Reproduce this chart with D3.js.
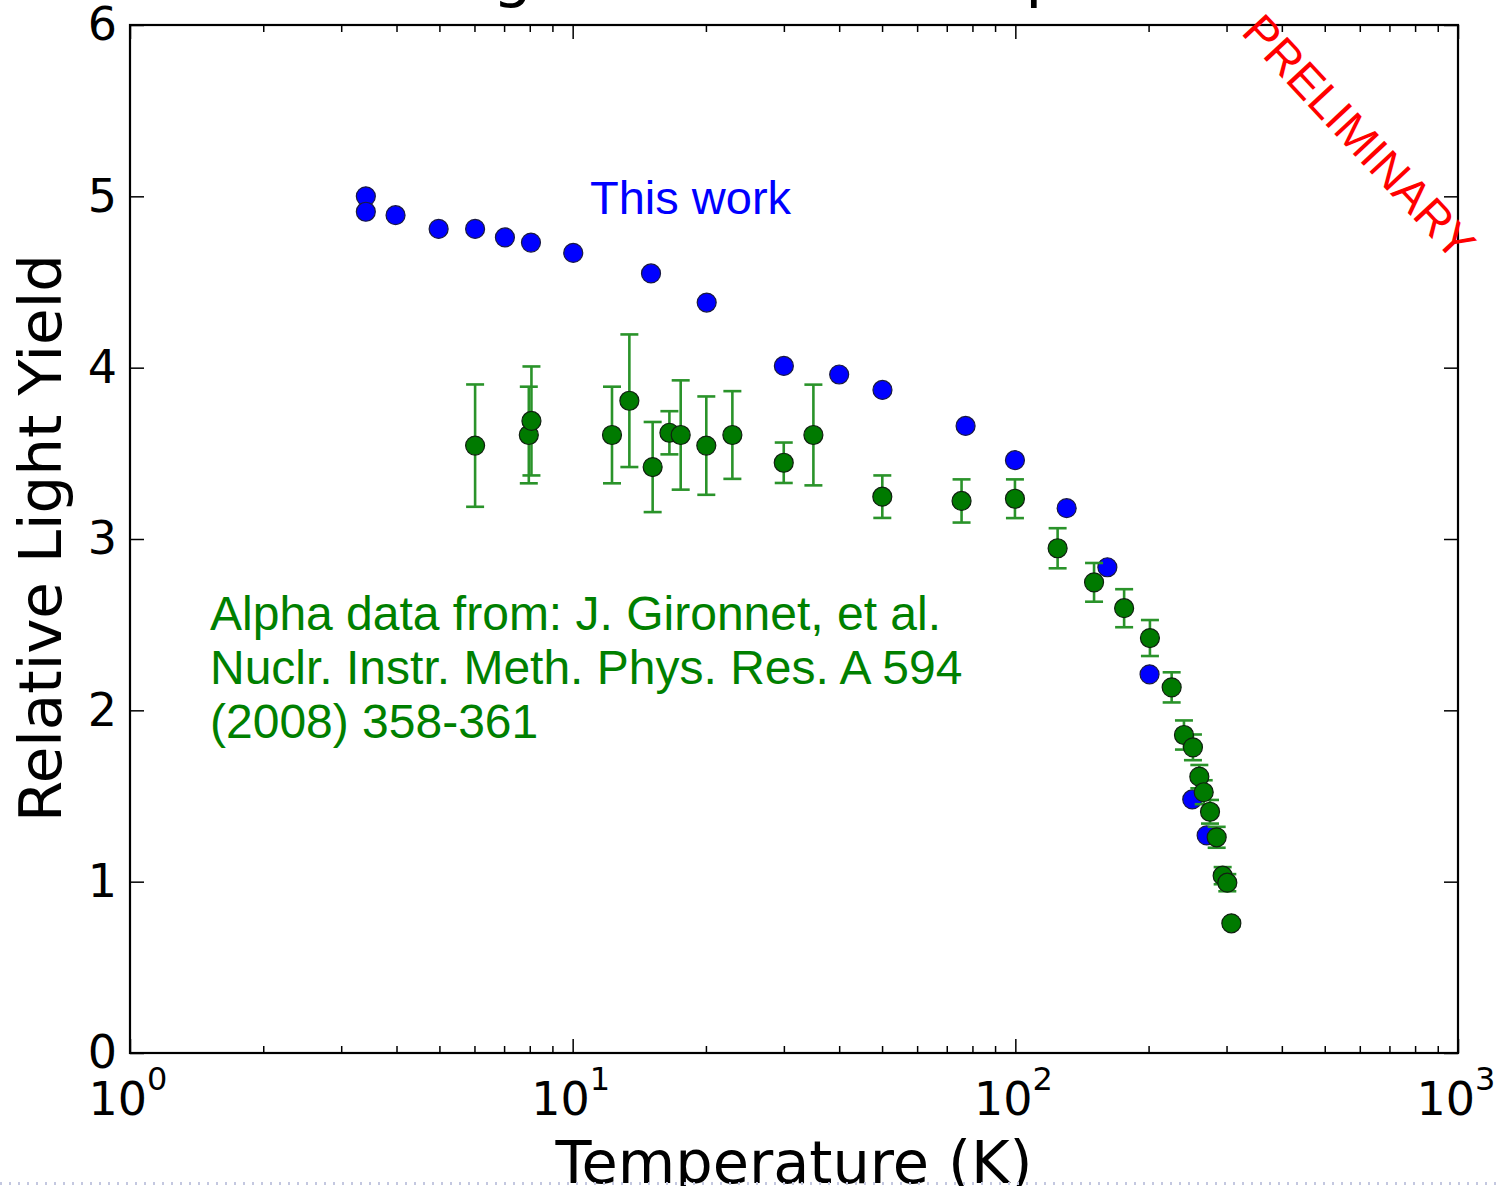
<!DOCTYPE html>
<html>
<head>
<meta charset="utf-8">
<script src="https://cdn.jsdelivr.net/npm/d3@7"></script>
<style>
  html, body { margin: 0; padding: 0; background: #fff; }
  svg { display: block; }
</style>
</head>
<body>
<div id="chart"></div>
<script>
// ---- Data ----
const blueTemp  = [3.41, 3.41, 3.98, 4.98, 6.02, 7.03, 8.05, 10.03, 15.03, 20.08, 30.0, 40.0, 50.1, 77.2, 99.8, 130.6, 161.4, 201, 251, 270.5];
const blueYield = [5.00, 4.91, 4.89, 4.81, 4.81, 4.76, 4.73, 4.67, 4.55, 4.38, 4.01, 3.96, 3.87, 3.66, 3.46, 3.18, 2.835, 2.21, 1.48, 1.27];

const greenTemp  = [6.02, 7.96, 8.07, 12.27, 13.43, 15.16, 16.54, 17.54, 20.04, 22.95, 29.98, 34.98, 50.06, 75.6, 99.8, 124.6, 150.6, 176.1, 201.4, 225.5, 240.4, 251.9, 260.4, 266.4, 275.3, 285.0, 294.0, 301.2, 307.6];
const greenYield = [3.545, 3.607, 3.689, 3.607, 3.807, 3.42, 3.62, 3.607, 3.545, 3.607, 3.445, 3.607, 3.247, 3.222, 3.235, 2.946, 2.747, 2.596, 2.422, 2.134, 1.856, 1.784, 1.613, 1.522, 1.408, 1.259, 1.035, 0.994, 0.757];
const greenErr   = [0.357, 0.282, 0.318, 0.282, 0.387, 0.263, 0.126, 0.319, 0.287, 0.256, 0.118, 0.294, 0.124, 0.126, 0.113, 0.117, 0.113, 0.111, 0.105, 0.088, 0.085, 0.075, 0.068, 0.07, 0.069, 0.061, 0.05, 0.05, 0.02];

const xMajorTicks = [1, 10, 100, 1000];
const xTickExponents = ["0", "1", "2", "3"];
const yTicks = [0, 1, 2, 3, 4, 5, 6];

const titleText = "Light Yield vs. Temperature";
const xLabel = "Temperature (K)";
const yLabel = "Relative Light Yield";
const blueNote = "This work";
const greenNote = ["Alpha data from: J. Gironnet, et al.", "Nuclr. Instr. Meth. Phys. Res. A 594", "(2008) 358-361"];
const stamp = "PRELIMINARY";

// ---- Layout ----
const W = 1500, H = 1186;
const pL = 130, pR = 1458, pT = 25, pB = 1053;

const svg = d3.select("#chart").append("svg").attr("width", W).attr("height", H);

const x = d3.scaleLog().domain([1, 1000]).range([pL, pR]);
const y = d3.scaleLinear().domain([0, 6]).range([pB, pT]);

const minorTicks = [];
for (let d = 1; d < 1000; d *= 10) for (let k = 2; k <= 9; k++) minorTicks.push(d * k);

const sansDV = "'DejaVu Sans', sans-serif";
const sansAr = "'Liberation Sans', Arial, sans-serif";

// Title (mostly cut off at the top of the image)
svg.append("text").attr("x", 440).attr("y", -5)
  .attr("font-family", sansDV).attr("font-size", 63).attr("fill", "#000")
  .text(titleText);

// ---- Axes ticks ----
function styleAxis(g) {
  g.select(".domain").remove();
  g.selectAll(".tick line").attr("stroke", "#000").attr("stroke-width", 1.5);
}
svg.append("g").attr("transform", `translate(0,${pB})`)
  .call(d3.axisBottom(x).tickValues(xMajorTicks).tickSizeInner(-14).tickSizeOuter(0).tickFormat(""))
  .call(styleAxis);
svg.append("g").attr("transform", `translate(0,${pB})`)
  .call(d3.axisBottom(x).tickValues(minorTicks).tickSizeInner(-7).tickSizeOuter(0).tickFormat(""))
  .call(styleAxis);
svg.append("g").attr("transform", `translate(0,${pT})`)
  .call(d3.axisTop(x).tickValues(xMajorTicks).tickSizeInner(-14).tickSizeOuter(0).tickFormat(""))
  .call(styleAxis);
svg.append("g").attr("transform", `translate(0,${pT})`)
  .call(d3.axisTop(x).tickValues(minorTicks).tickSizeInner(-7).tickSizeOuter(0).tickFormat(""))
  .call(styleAxis);

const yAxisG = svg.append("g").attr("transform", `translate(${pL},0)`)
  .call(d3.axisLeft(y).tickValues(yTicks).tickSizeInner(-14).tickSizeOuter(0).tickPadding(13).tickFormat(d3.format("d")))
  .call(styleAxis);
yAxisG.selectAll(".tick text")
  .attr("font-family", sansDV).attr("font-size", 46).attr("fill", "#000");
svg.append("g").attr("transform", `translate(${pR},0)`)
  .call(d3.axisRight(y).tickValues(yTicks).tickSizeInner(-14).tickSizeOuter(0).tickFormat(""))
  .call(styleAxis);

// X tick labels 10^n
xMajorTicks.forEach((v, i) => {
  const t = svg.append("text").attr("x", x(v) - 2).attr("y", 1115)
    .attr("text-anchor", "middle")
    .attr("font-family", sansDV).attr("font-size", 46).attr("fill", "#000");
  t.append("tspan").text("10");
  t.append("tspan").attr("font-size", 32).attr("dy", -25).text(xTickExponents[i]);
});

// Frame
svg.append("rect").attr("x", pL).attr("y", pT)
  .attr("width", pR - pL).attr("height", pB - pT)
  .attr("fill", "none").attr("stroke", "#000").attr("stroke-width", 2.2);

// Axis labels
svg.append("text").attr("x", (pL + pR) / 2).attr("y", 1183)
  .attr("text-anchor", "middle").attr("font-family", sansDV).attr("font-size", 59).attr("fill", "#000")
  .text(xLabel);
svg.append("text").attr("transform", `translate(61,${(258 + 818) / 2}) rotate(-90)`)
  .attr("text-anchor", "middle").attr("font-family", sansDV).attr("font-size", 59.5).attr("fill", "#000")
  .text(yLabel);

// ---- Data marks ----
const blueData = blueTemp.map((t, i) => ({ t, v: blueYield[i] }));
const greenData = greenTemp.map((t, i) => ({ t, v: greenYield[i], e: greenErr[i] }));

svg.append("g").selectAll("circle").data(blueData).join("circle")
  .attr("cx", d => x(d.t)).attr("cy", d => y(d.v)).attr("r", 9.5)
  .attr("fill", "#0000ff").attr("stroke", "#1a1a40").attr("stroke-width", 1.2);

const eb = svg.append("g").attr("stroke", "#2a932a").attr("stroke-width", 2.6).attr("fill", "none");
greenData.forEach(d => {
  const cx = x(d.t), y0 = y(d.v - d.e), y1 = y(d.v + d.e);
  eb.append("line").attr("x1", cx).attr("x2", cx).attr("y1", y0).attr("y2", y1);
  eb.append("line").attr("x1", cx - 9).attr("x2", cx + 9).attr("y1", y0).attr("y2", y0);
  eb.append("line").attr("x1", cx - 9).attr("x2", cx + 9).attr("y1", y1).attr("y2", y1);
});
svg.append("g").selectAll("circle").data(greenData).join("circle")
  .attr("cx", d => x(d.t)).attr("cy", d => y(d.v)).attr("r", 9.5)
  .attr("fill", "#007a00").attr("stroke", "#102010").attr("stroke-width", 1.2);

// ---- Annotations ----
svg.append("text").attr("x", 590).attr("y", 214)
  .attr("font-family", sansAr).attr("font-size", 47).attr("fill", "#0000ff")
  .text(blueNote);
greenNote.forEach((line, i) => {
  svg.append("text").attr("x", 210).attr("y", 630 + i * 54)
    .attr("font-family", sansAr).attr("font-size", 48).attr("fill", "#008000")
    .text(line);
});
svg.append("text").attr("transform", "translate(1240,33) rotate(47)")
  .attr("font-family", sansAr).attr("font-size", 46.5).attr("fill", "#ff0000")
  .text(stamp);

// Slide artifact: dotted strip at the bottom edge
svg.append("line").attr("x1", 0).attr("x2", W).attr("y1", 1183.5).attr("y2", 1183.5)
  .attr("stroke", "#c4c8e0").attr("stroke-width", 3).attr("stroke-dasharray", "2,7");
</script>
</body>
</html>
